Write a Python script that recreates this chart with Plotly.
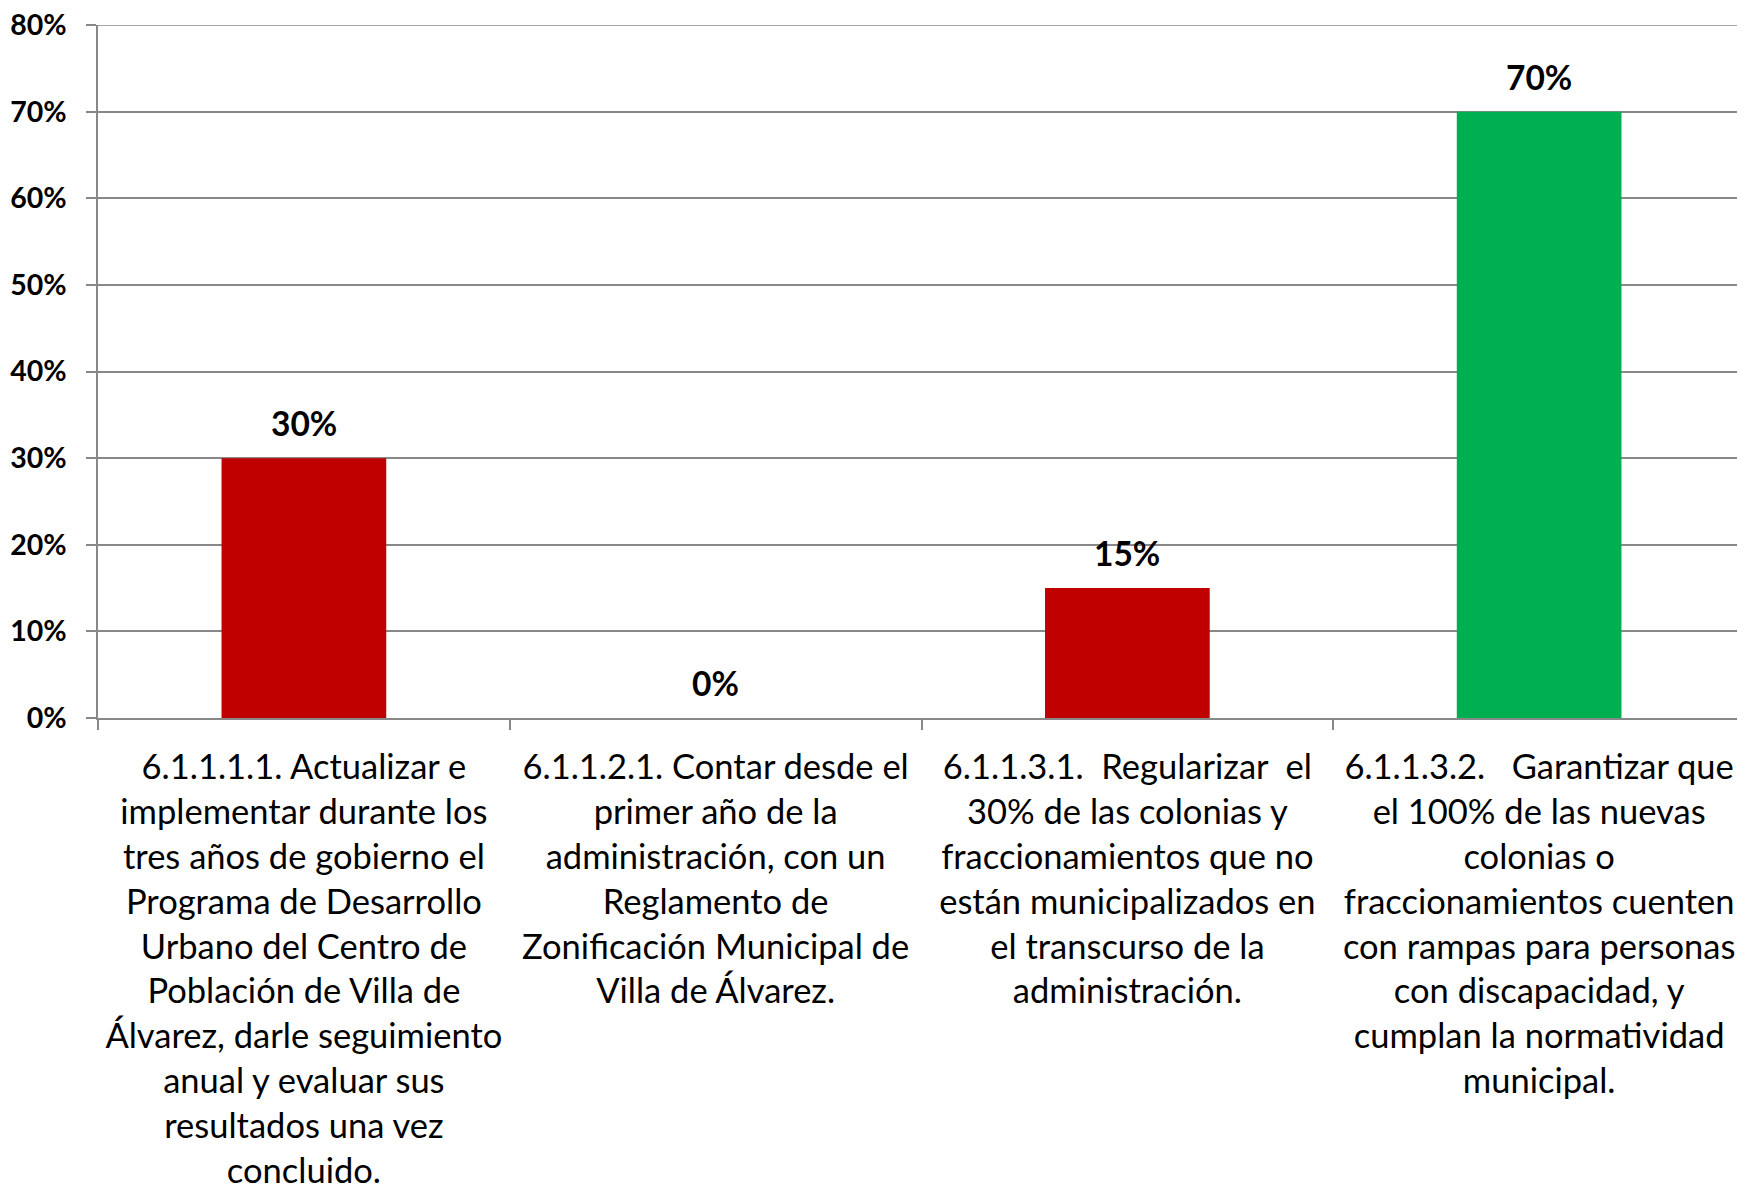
import plotly.graph_objects as go

categories = [
    "6.1.1.1.1. Actualizar e<br>implementar durante los<br>tres años de gobierno el<br>Programa de Desarrollo<br>Urbano del Centro de<br>Población de Villa de<br>Álvarez, darle seguimiento<br>anual y evaluar sus<br>resultados una vez<br>concluido.",
    "6.1.1.2.1. Contar desde el<br>primer año de la<br>administración, con un<br>Reglamento de<br>Zonificación Municipal de<br>Villa de Álvarez.",
    "6.1.1.3.1.  Regularizar  el<br>30% de las colonias y<br>fraccionamientos que no<br>están municipalizados en<br>el transcurso de la<br>administración.",
    "6.1.1.3.2.   Garantizar que<br>el 100% de las nuevas<br>colonias o<br>fraccionamientos cuenten<br>con rampas para personas<br>con discapacidad, y<br>cumplan la normatividad<br>municipal.",
]
values = [0.30, 0.0, 0.15, 0.70]
bar_colors = ["#C00000", "#C00000", "#C00000", "#00B050"]
value_labels = ["30%", "0%", "15%", "70%"]
y_ticks = [0.0, 0.1, 0.2, 0.3, 0.4, 0.5, 0.6, 0.7, 0.8]
y_tick_labels = ["0%", "10%", "20%", "30%", "40%", "50%", "60%", "70%", "80%"]

FONT = "Lato, 'Open Sans', sans-serif"
GRID = "#888888"

fig = go.Figure()
fig.add_trace(go.Bar(x=categories, y=values, marker=dict(color=bar_colors, line=dict(width=0)),
                     hoverinfo="skip"))

for c, v, t in zip(categories, values, value_labels):
    fig.add_annotation(x=c, y=v, text="<b>%s</b>" % t, showarrow=False,
                       yanchor="bottom", yshift=13,
                       font=dict(family=FONT, size=33.5, color="black"))

# page body has an 8px margin, so the figure is sized/offset to compensate
fig.update_layout(
    width=1737, height=1184,
    margin=dict(l=90, r=0, t=17, b=474),
    paper_bgcolor="white", plot_bgcolor="white",
    bargap=0.6, showlegend=False,
    font=dict(family=FONT, color="black"),
)
fig.update_xaxes(
    type="category", tickson="boundaries", ticks="outside", ticklen=10, tickcolor=GRID, tickwidth=1.5,
    showline=True, linecolor=GRID, linewidth=1.5, showgrid=False, automargin=False,
    tickfont=dict(family=FONT, size=34.5, color="black"), tickangle=0,
    ticklabelstandoff=18,
)
fig.update_yaxes(
    range=[0, 0.8], tickmode="array", tickvals=y_ticks, ticktext=y_tick_labels,
    ticks="outside", ticklen=10, tickcolor=GRID, tickwidth=1.5,
    showline=True, linecolor=GRID, linewidth=1.5, showgrid=True, gridcolor=GRID, gridwidth=1.5,
    zeroline=False, automargin=False, ticklabeloverflow="allow",
    tickfont=dict(family=FONT, size=28.5, color="black", weight="bold"),
    ticklabelstandoff=14,
)
# top gridline (80%) drawn as a shape in case the edge gridline is clipped
fig.add_shape(type="line", xref="paper", yref="y", x0=0, x1=1, y0=y_ticks[-1], y1=y_ticks[-1],
              line=dict(color=GRID, width=1.5), layer="below")

fig.write_html("out.html")
